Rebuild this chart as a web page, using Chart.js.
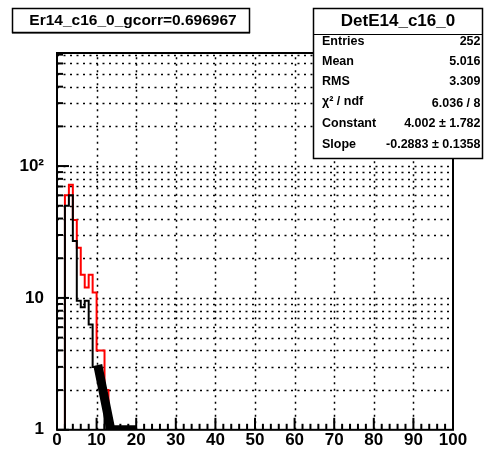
<!DOCTYPE html>
<html>
<head>
<meta charset="utf-8">
<script src="https://cdn.jsdelivr.net/npm/chart.js@4.4.0/dist/chart.umd.min.js"></script>
<style>
  body { margin: 0; background: #fff; }
  canvas { display: block; }
</style>
</head>
<body>
<canvas id="c" width="485" height="453"></canvas>
<script>
/* ==========================
   DATA
========================== */
const blackBins = [2, 3, 4, 5, 6, 7, 8, 9, 10, 11, 12, 13];
const blackCounts = [50, 60, 27, 9.5, 8.5, 9.5, 6.3, 3, 3, 2, 1, 1];
const redBins = [2, 3, 4, 5, 6, 7, 8, 9, 10, 11, 12];
const redCounts = [60, 72, 39, 24, 15, 12, 15, 11, 4, 4, 2];
const fitX = [10.3, 13.6, 20];
const fitY = [3.1, 1, 1];
const xTicks = [0, 10, 20, 30, 40, 50, 60, 70, 80, 90, 100];
const yTicks = [1, 10, 100];
const yMin = 1, yMax = 720;

const titleText = "Er14_c16_0_gcorr=0.696967";
const statsTitle = "DetE14_c16_0";
const statsLabels = ["Entries", "Mean", "RMS", "χ² / ndf", "Constant", "Slope"];
const statsValues = ["252", "5.016", "3.309", "6.036 / 8", "4.002 ± 1.782", "-0.2883 ± 0.1358"];

const FONT = "'Liberation Sans', Arial, Helvetica, sans-serif";

/* ==========================
   HIST -> STEP POINTS
========================== */
function histPoints(bins, counts) {
  const pts = [{ x: bins[0], y: yMin }];
  bins.forEach((b, i) => pts.push({ x: b, y: counts[i] }));
  pts.push({ x: bins[bins.length - 1] + 1, y: yMin });
  return pts;
}

/* ==========================
   GRID (dotted)
========================== */
const gridPlugin = {
  id: "rootGrid",
  beforeDatasetsDraw(chart) {
    const { ctx, chartArea: a, scales: { x, y } } = chart;
    ctx.save();
    ctx.strokeStyle = "#000";
    ctx.lineWidth = 1.5;
    ctx.setLineDash([2, 4.5]);
    xTicks.forEach(v => {
      if (v <= 0 || v >= 100) return;
      const px = Math.round(x.getPixelForValue(v)) + 0.5;
      ctx.beginPath(); ctx.moveTo(px, a.bottom); ctx.lineTo(px, a.top); ctx.stroke();
    });
    for (let d = 1; d <= 100; d *= 10) {
      for (let k = 1; k <= 9; k++) {
        const v = k * d;
        if (v <= yMin || v >= yMax) continue;
        const py = Math.round(y.getPixelForValue(v)) + 0.5;
        ctx.beginPath(); ctx.moveTo(a.left, py); ctx.lineTo(a.right, py); ctx.stroke();
      }
    }
    ctx.restore();
  }
};

/* ==========================
   FRAME + INNER TICKS
========================== */
const framePlugin = {
  id: "rootFrame",
  afterDatasetsDraw(chart) {
    const { ctx, chartArea: a, scales: { x, y } } = chart;
    ctx.save();
    ctx.strokeStyle = "#000";
    ctx.lineWidth = 2;
    ctx.strokeRect(a.left, a.top, a.right - a.left, a.bottom - a.top);

    // x ticks
    for (let v = 0; v <= 100; v += 2) {
      const px = x.getPixelForValue(v);
      const len = v % 10 === 0 ? 12 : 6;
      ctx.beginPath(); ctx.moveTo(px, a.bottom); ctx.lineTo(px, a.bottom - len); ctx.stroke();
    }
    // y ticks
    for (let d = 1; d <= 100; d *= 10) {
      for (let k = 1; k <= 9; k++) {
        const v = k * d;
        if (v >= yMax) continue;
        const py = y.getPixelForValue(v);
        const len = k === 1 ? 12 : 6;
        ctx.beginPath(); ctx.moveTo(a.left, py); ctx.lineTo(a.left + len, py); ctx.stroke();
      }
    }
    ctx.restore();
  }
};

/* ==========================
   TITLE + STATS BOX
========================== */
const boxPlugin = {
  id: "rootBoxes",
  afterDraw(chart) {
    const ctx = chart.ctx;
    ctx.save();

    // title
    ctx.fillStyle = "#fff";
    ctx.fillRect(12, 8, 238, 25);
    ctx.strokeStyle = "#000";
    ctx.lineWidth = 1.5;
    ctx.strokeRect(12.5, 8.5, 237, 24);
    ctx.fillStyle = "#000";
    ctx.fillRect(12, 32, 238, 1.5);
    ctx.font = "bold 15.5px " + FONT;
    ctx.textAlign = "center";
    ctx.textBaseline = "middle";
    ctx.fillText(titleText, 133, 21);

    // stats
    ctx.fillStyle = "#fff";
    ctx.fillRect(313, 8, 170, 151);
    ctx.lineWidth = 1.5;
    ctx.strokeRect(313.5, 8.5, 169, 150);
    ctx.lineWidth = 1;
    ctx.beginPath(); ctx.moveTo(313, 34.5); ctx.lineTo(483, 34.5); ctx.stroke();
    ctx.fillStyle = "#000";
    ctx.font = "bold 17px " + FONT;
    ctx.fillText(statsTitle, 398, 21.5);

    const rowY = [41.5, 61.5, 82, 102, 124, 145];
    ctx.font = "bold 12.5px " + FONT;
    statsLabels.forEach((lab, i) => {
      ctx.textAlign = "left";
      ctx.fillText(lab, 322, rowY[i]);
      ctx.textAlign = "right";
      ctx.fillText(statsValues[i], 480.5, rowY[i] + (i === 3 ? 2 : 0));
    });
    ctx.restore();
  }
};

/* ==========================
   CHART
   (dataset 0 is painted last / on top)
========================== */
new Chart(document.getElementById("c"), {
  type: "line",
  data: {
    datasets: [
      {
        data: fitX.map((v, i) => ({ x: v, y: fitY[i] })),
        borderColor: "#000",
        borderWidth: 9,
        borderJoinStyle: "round",
        pointRadius: 0,
        fill: false
      },
      {
        data: histPoints(blackBins, blackCounts),
        borderColor: "#000",
        borderWidth: 2,
        stepped: true,
        pointRadius: 0,
        fill: false
      },
      {
        data: histPoints(redBins, redCounts),
        borderColor: "#ff0000",
        borderWidth: 2,
        stepped: true,
        pointRadius: 0,
        fill: false
      }
    ]
  },
  options: {
    responsive: false,
    devicePixelRatio: 1,
    animation: false,
    layout: { padding: { left: 0, right: 32, top: 53, bottom: 0 } },
    plugins: { legend: { display: false }, tooltip: { enabled: false } },
    scales: {
      x: {
        type: "linear",
        min: 0,
        max: 100,
        afterBuildTicks: s => { s.ticks = xTicks.map(v => ({ value: v })); },
        afterFit: s => { s.height = 21; },
        grid: { display: false, drawTicks: false },
        border: { display: false },
        ticks: {
          color: "#000",
          font: { family: FONT, size: 17, weight: "bold" },
          padding: 0,
          maxRotation: 0,
          autoSkip: false,
          callback: v => String(v)
        }
      },
      y: {
        type: "logarithmic",
        min: yMin,
        max: yMax,
        afterBuildTicks: s => { s.ticks = yTicks.map(v => ({ value: v })); },
        afterFit: s => { s.width = 57; },
        grid: { display: false, drawTicks: false },
        border: { display: false },
        ticks: {
          color: "#000",
          font: { family: FONT, size: 17, weight: "bold" },
          padding: 13,
          autoSkip: false,
          callback: v => v === 100 ? "10²" : String(v)
        }
      }
    }
  },
  plugins: [gridPlugin, framePlugin, boxPlugin]
});
</script>
</body>
</html>
